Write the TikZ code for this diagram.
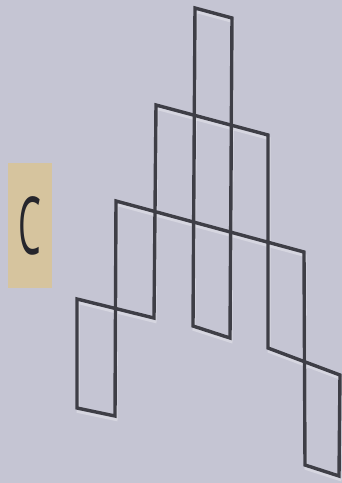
\documentclass[tikz,border=0pt]{standalone}
\usepackage{fontspec}
\newfontfamily\letra{Open Sans}
\definecolor{fondo}{HTML}{C5C5D3}
\definecolor{arena}{HTML}{D6C49E}
\definecolor{tinta}{HTML}{26262C}
\definecolor{grafito}{HTML}{3E3E46}
\tikzset{
  trazo/.style={line width=3.4pt, draw=grafito, line join=miter, line cap=rect},
  brillo/.style={line width=3pt, draw=white, opacity=0.3, line join=miter,
                 transform canvas={xshift=1pt, yshift=-3.5pt}},
  etiqueta/.style={rectangle, fill=arena, minimum width=44pt, minimum height=125pt,
                   inner sep=0pt, text=tinta, font=\letra\fontsize{80}{80}\selectfont}
}
\begin{document}
\begin{tikzpicture}[x=1pt, y=-1pt]
  \fill[fondo] (0,0) rectangle (342,483);
  \useasboundingbox (0,0) rectangle (342,483);
  \node (caja) [etiqueta] at (30,225.5) {\scalebox{0.45}[1]{C}};
  % esquinas de la figura
  \coordinate (a) at (195,8);   \coordinate (b) at (232,18);
  \coordinate (c) at (156,105); \coordinate (d) at (268,135);
  \coordinate (e) at (116,201); \coordinate (f) at (304,252);
  \coordinate (g) at (77,299);  \coordinate (h) at (154,318);
  \coordinate (i) at (193,326); \coordinate (j) at (230,338);
  \coordinate (k) at (268,348); \coordinate (l) at (340,375);
  \coordinate (m) at (77,408);  \coordinate (n) at (115,416);
  \coordinate (o) at (305,465); \coordinate (p) at (339,476);
  % brillo bajo las lineas
  \draw [brillo] (i) -- (a) -- (b) -- (j) -- cycle;
  \draw [brillo] (h) -- (g) -- (m) -- (n) -- (e) -- (f) -- (o) -- (p) -- (l) -- (k) -- (d) -- (c) -- cycle;
  % contorno
  \draw [trazo] (i) -- (a) -- (b) -- (j) -- cycle;
  \draw [trazo] (h) -- (g) -- (m) -- (n) -- (e) -- (f) -- (o) -- (p) -- (l) -- (k) -- (d) -- (c) -- cycle;
\end{tikzpicture}
\end{document}
